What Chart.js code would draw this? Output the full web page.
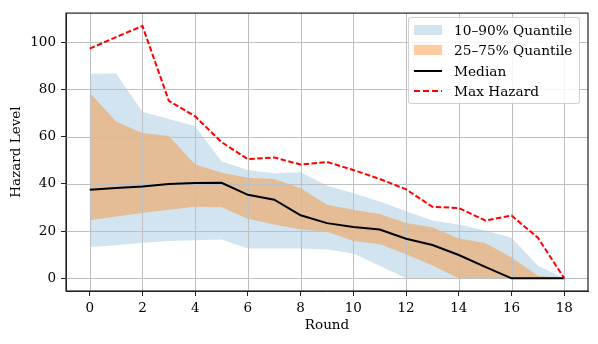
<!DOCTYPE html>
<html>
<head>
<meta charset="utf-8">
<script src="https://cdn.jsdelivr.net/npm/chart.js@4/dist/chart.umd.min.js"></script>
<style>
  html, body { margin: 0; padding: 0; background: #fff; }
  #wrap { position: relative; width: 598px; height: 344px; }
  #legend {
    position: absolute; left: 408px; top: 17px; width: 172px; height: 87px;
    box-sizing: border-box; border: 1px solid rgba(204,204,204,0.9); border-radius: 3px;
    background: rgba(255,255,255,0.85);
    font-family: "DejaVu Serif", serif; font-size: 13.7px; color: #000;
  }
  #legend .row { position: absolute; left: 0; height: 20px; display: flex; align-items: center; }
  #legend .key { position: absolute; left: 5px; width: 28px; }
  #legend .txt { position: absolute; left: 45px; white-space: nowrap; line-height: 20px; top: 0; }
</style>
</head>
<body>
<div id="wrap">
  <canvas id="chart" width="598" height="344"></canvas>
  <div id="legend"></div>
</div>
<script>
  // values
  const rounds = [0, 1, 2, 3, 4, 5, 6, 7, 8, 9, 10, 11, 12, 13, 14, 15, 16, 17, 18];
  const q90 = [86.7, 86.8, 70.6, 67.5, 64.4, 49.6, 45.9, 44.5, 44.9, 39.2, 36.1, 32.6, 28.4, 24.5, 22.8, 20.3, 17.2, 5.3, 0];
  const q10 = [13.3, 14.0, 15.1, 15.8, 16.1, 16.5, 12.6, 12.7, 12.7, 12.2, 10.5, 5.3, 0, 0, 0, 0, 0, 0, 0];
  const q75 = [78.6, 66.4, 61.6, 60.3, 48.2, 44.7, 42.6, 42.1, 38.2, 31.2, 29.1, 27.3, 23.5, 21.7, 16.9, 15.0, 8.8, 1.1, 0];
  const q25 = [24.6, 26.2, 27.7, 29.1, 30.3, 30.1, 25.3, 22.8, 20.7, 19.7, 15.8, 14.4, 10.2, 5.5, 0, 0, 0, 0, 0];
  const median = [37.5, 38.3, 38.9, 40.0, 40.4, 40.5, 35.4, 33.3, 26.7, 23.4, 21.8, 20.7, 16.8, 14.1, 9.9, 4.9, 0, 0, 0];
  const maxHazard = [97.3, 102.2, 106.9, 75.2, 68.6, 57.7, 50.5, 51.2, 48.2, 49.3, 45.9, 42.1, 37.7, 30.3, 29.8, 24.5, 26.6, 17.2, 0];

  const xTicks = [0, 2, 4, 6, 8, 10, 12, 14, 16, 18];
  const yTicks = [0, 20, 40, 60, 80, 100];

  const BLUE = "rgba(31,119,180,0.2)";
  const ORANGE = "rgba(255,127,14,0.4)";
  const GRID = "#bfbfbf";
  const FONT = { family: "'DejaVu Serif', serif", size: 13.5 };

  const pts = (arr) => arr.map((v, i) => ({ x: rounds[i], y: v }));
  const none = "rgba(0,0,0,0)";

  // grid on top of the bands but under the lines, like matplotlib
  const gridOverFill = {
    id: "gridOverFill",
    beforeDatasetsDraw(chart) {
      const { ctx, chartArea: a, scales } = chart;
      ctx.save();
      ctx.strokeStyle = GRID;
      ctx.lineWidth = 1;
      ctx.beginPath();
      xTicks.forEach((t) => {
        const px = Math.round(scales.x.getPixelForValue(t)) + 0.5;
        ctx.moveTo(px, a.top); ctx.lineTo(px, a.bottom);
      });
      yTicks.forEach((t) => {
        const py = Math.round(scales.y.getPixelForValue(t)) + 0.5;
        ctx.moveTo(a.left, py); ctx.lineTo(a.right, py);
      });
      ctx.stroke();
      ctx.restore();
    },
    afterDraw(chart) {
      const { ctx, chartArea: a } = chart;
      ctx.save();
      ctx.strokeStyle = "#222";
      ctx.lineWidth = 1.2;
      ctx.strokeRect(a.left, a.top, a.right - a.left, a.bottom - a.top);
      ctx.restore();
    },
  };

  new Chart(document.getElementById("chart"), {
    type: "line",
    data: {
      datasets: [
        { label: "10–90% Quantile", data: pts(q90), fill: "+1", backgroundColor: BLUE, borderColor: none, pointRadius: 0, tension: 0, order: 5 },
        { label: "q10", data: pts(q10), fill: false, borderColor: none, pointRadius: 0, order: 5 },
        { label: "25–75% Quantile", data: pts(q75), fill: "+1", backgroundColor: ORANGE, borderColor: none, pointRadius: 0, order: 4 },
        { label: "q25", data: pts(q25), fill: false, borderColor: none, pointRadius: 0, order: 4 },
        { label: "Median", data: pts(median), fill: false, borderColor: "#000", borderWidth: 2, pointRadius: 0, order: 2 },
        { label: "Max Hazard", data: pts(maxHazard), fill: false, borderColor: "#ff0000", borderWidth: 2, borderDash: [5.5, 2.4], pointRadius: 0, order: 1 },
      ],
    },
    options: {
      responsive: false,
      animation: false,
      layout: { padding: { left: 0, right: 10, top: 9, bottom: 0 } },
      plugins: {
        legend: { display: false },
        tooltip: { enabled: false },
        filler: { drawTime: "beforeDatasetsDraw" },
      },
      scales: {
        x: {
          type: "linear",
          min: -0.9, max: 18.9,
          afterBuildTicks: (s) => { s.ticks = xTicks.map((v) => ({ value: v })); },
          afterFit: (s) => { s.height = 53; },
          ticks: { color: "#000", font: FONT, padding: 4, maxRotation: 0 },
          grid: { drawOnChartArea: false, tickColor: "#222", tickLength: 5 },
          border: { color: "#222" },
          title: { display: true, text: "Round", color: "#000", font: FONT, padding: { top: 0, bottom: 10 } },
        },
        y: {
          min: -5.35, max: 112.35,
          afterBuildTicks: (s) => { s.ticks = yTicks.map((v) => ({ value: v })); },
          afterFit: (s) => { s.width = 66; },
          ticks: { color: "#000", font: FONT, padding: 5 },
          grid: { drawOnChartArea: false, tickColor: "#222", tickLength: 5 },
          border: { color: "#222" },
          title: { display: true, text: "Hazard Level", color: "#000", font: FONT, padding: { top: 8, bottom: 0 } },
        },
      },
    },
    plugins: [gridOverFill],
  });

  // legend box inside the axes, upper right
  const legendItems = [
    { text: "10–90% Quantile", key: `<div style="height:10px;background:${BLUE}"></div>` },
    { text: "25–75% Quantile", key: `<div style="height:10px;background:${ORANGE}"></div>` },
    { text: "Median", key: `<div style="height:2px;background:#000"></div>` },
    { text: "Max Hazard", key: `<div style="height:2px;background:repeating-linear-gradient(to right,#ff0000 0 6px,transparent 6px 9px)"></div>` },
  ];
  document.getElementById("legend").innerHTML = legendItems.map((it, i) => `
    <div class="row" style="top:${2 + i * 20.3}px;width:100%">
      <div class="key">${it.key}</div>
      <div class="txt">${it.text}</div>
    </div>`).join("");
</script>
</body>
</html>
